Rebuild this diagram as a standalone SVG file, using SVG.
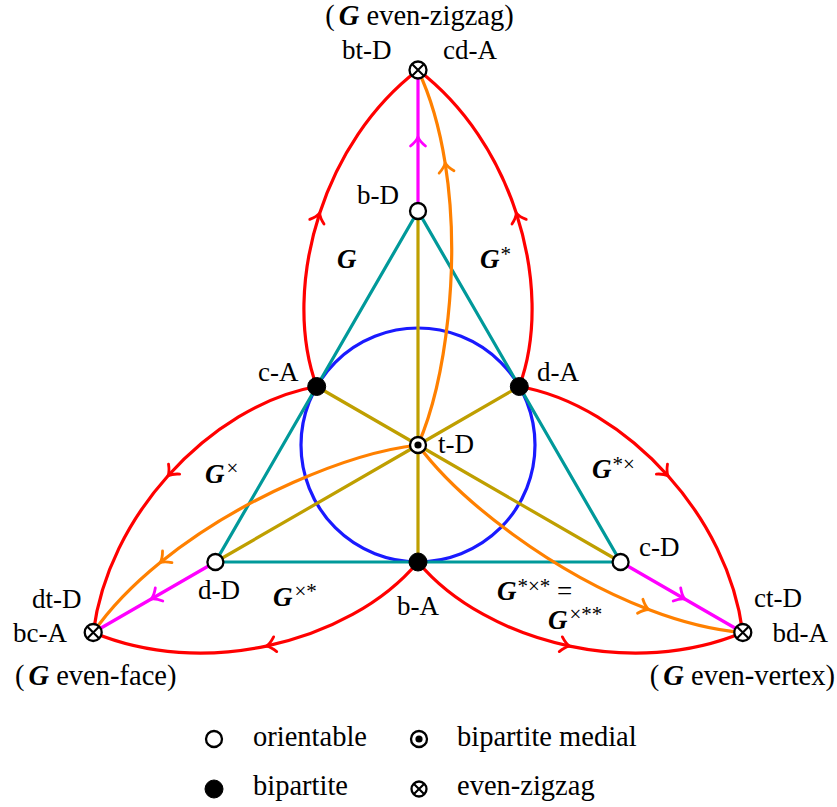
<svg xmlns="http://www.w3.org/2000/svg" width="837" height="807" viewBox="0 0 837 807" font-family="'Liberation Serif', 'Times New Roman', serif">
<style>
text{font-family:"Liberation Serif","Times New Roman",serif;font-size:27px;fill:#000}
.big{font-size:28.5px}
.gi{font-weight:bold;font-style:italic}
.sup{font-size:21px}
.e{fill:none;stroke-width:3.2;stroke-linecap:round}
.red{stroke:#ff0000;marker-mid:url(#ar)}
.mag{stroke:#ff00ff;marker-mid:url(#am)}
.org{stroke:#ff8000;marker-mid:url(#ao)}
.teal{stroke:#00999a}
.olive{stroke:#bf9f00}
.blue{stroke:#1a1aff}
.nw{fill:#fff;stroke:#000;stroke-width:2.3}
.nb{fill:#000;stroke:#000;stroke-width:1}
.x{stroke:#000;stroke-width:2.1}
</style>
<defs>
<marker id="ar" markerUnits="userSpaceOnUse" viewBox="-12 -10 14 20" refX="0" refY="0" markerWidth="14" markerHeight="20" orient="auto" overflow="visible"><path d="M-9,-7.5 C-5,-2.5 -2.5,-1 0,0 C-2.5,1 -5,2.5 -9,7.5" fill="none" stroke="#ff0000" stroke-width="2.8" stroke-linecap="round"/></marker>
<marker id="am" markerUnits="userSpaceOnUse" viewBox="-12 -10 14 20" refX="0" refY="0" markerWidth="14" markerHeight="20" orient="auto" overflow="visible"><path d="M-9,-7.5 C-5,-2.5 -2.5,-1 0,0 C-2.5,1 -5,2.5 -9,7.5" fill="none" stroke="#ff00ff" stroke-width="2.8" stroke-linecap="round"/></marker>
<marker id="ao" markerUnits="userSpaceOnUse" viewBox="-12 -10 14 20" refX="0" refY="0" markerWidth="14" markerHeight="20" orient="auto" overflow="visible"><path d="M-9,-7.5 C-5,-2.5 -2.5,-1 0,0 C-2.5,1 -5,2.5 -9,7.5" fill="none" stroke="#ff8000" stroke-width="2.8" stroke-linecap="round"/></marker>
</defs>

<g id="connectors">
<circle class="e blue" cx="418" cy="445" r="117"/>
<path class="e teal" d="M418,211 L215.4,562 L620.6,562 Z"/>
<g class="e olive">
<path d="M418,445 L418,211"/>
<path d="M418,445 L418,562"/>
<path d="M418,445 L316.7,386.5"/>
<path d="M418,445 L519.3,386.5"/>
<path d="M418,445 L215.4,562"/>
<path d="M418,445 L620.6,562"/>
</g>
<path id="r1" class="e red" d="M316.7,386.5 C298.32,336.56 300.11,273.13 319.68,213.16 C337.75,157.81 370.96,106 418,70"/>
<path id="r2" class="e red" d="M519.3,386.5 C537.68,336.56 535.89,273.13 516.32,213.16 C498.25,157.81 465.04,106 418,70"/>
<path id="r3" class="e red" transform="rotate(120 418 445)" d="M316.7,386.5 C298.32,336.56 300.11,273.13 319.68,213.16 C337.75,157.81 370.96,106 418,70"/>
<path id="r4" class="e red" transform="rotate(120 418 445)" d="M519.3,386.5 C537.68,336.56 535.89,273.13 516.32,213.16 C498.25,157.81 465.04,106 418,70"/>
<path id="r5" class="e red" transform="rotate(240 418 445)" d="M316.7,386.5 C298.32,336.56 300.11,273.13 319.68,213.16 C337.75,157.81 370.96,106 418,70"/>
<path id="r6" class="e red" transform="rotate(240 418 445)" d="M519.3,386.5 C537.68,336.56 535.89,273.13 516.32,213.16 C498.25,157.81 465.04,106 418,70"/>
<path id="m1" class="e mag" d="M418,211 L418,137 L418,70"/>
<path id="m2" class="e mag" transform="rotate(120 418 445)" d="M418,211 L418,137 L418,70"/>
<path id="m3" class="e mag" transform="rotate(240 418 445)" d="M418,211 L418,137 L418,70"/>
<path id="o1" class="e org" d="M418,445 C445.75,381.25 461.13,264.06 445.14,163.05 C439.81,129.38 431,97.5 418,70"/>
<path id="o2" class="e org" transform="rotate(120 418 445)" d="M418,445 C445.75,381.25 461.13,264.06 445.14,163.05 C439.81,129.38 431,97.5 418,70"/>
<path id="o3" class="e org" transform="rotate(240 418 445)" d="M418,445 C445.75,381.25 461.13,264.06 445.14,163.05 C439.81,129.38 431,97.5 418,70"/>
</g>

<g id="node-top">
<circle class="nw" cx="418" cy="70" r="8.5"/>
<path class="x" d="M412,64 L424,76 M424,64 L412,76"/>
<text class="big" x="419.5" y="25" text-anchor="middle">(<tspan class="gi" dx="4">G</tspan> even-zigzag)</text>
<text x="342" y="59">bt-D</text>
<text x="443" y="59">cd-A</text>
</g>
<g id="node-bl">
<circle class="nw" cx="93.2" cy="632.5" r="8.5"/>
<path class="x" d="M87.2,626.5 L99.2,638.5 M99.2,626.5 L87.2,638.5"/>
<text x="32" y="608">dt-D</text>
<text x="13" y="642">bc-A</text>
<text class="big" x="15" y="685">(<tspan class="gi" dx="4">G</tspan> even-face)</text>
</g>
<g id="node-br">
<circle class="nw" cx="742.8" cy="632.5" r="8.5"/>
<path class="x" d="M736.8,626.5 L748.8,638.5 M748.8,626.5 L736.8,638.5"/>
<text x="802" y="607" text-anchor="end">ct-D</text>
<text x="828" y="642" text-anchor="end">bd-A</text>
<text class="big" x="835" y="685" text-anchor="end">(<tspan class="gi" dx="4">G</tspan> even-vertex)</text>
</g>
<g id="node-bD">
<circle class="nw" cx="418" cy="211" r="8"/>
<text x="399" y="204" text-anchor="end">b-D</text>
</g>
<g id="node-cA">
<circle class="nb" cx="316.7" cy="386.5" r="9"/>
<text x="258" y="381">c-A</text>
</g>
<g id="node-dA">
<circle class="nb" cx="519.3" cy="386.5" r="9"/>
<text x="537" y="381">d-A</text>
</g>
<g id="node-tD">
<circle class="nw" cx="418" cy="445" r="8"/>
<circle cx="418" cy="445" r="3.6" fill="#000"/>
<text x="438" y="453">t-D</text>
</g>
<g id="node-dD">
<circle class="nw" cx="215.4" cy="562" r="8"/>
<text x="198" y="599">d-D</text>
</g>
<g id="node-bA">
<circle class="nb" cx="418" cy="562" r="9"/>
<text x="418" y="615" text-anchor="middle">b-A</text>
</g>
<g id="node-cD">
<circle class="nw" cx="620.6" cy="562" r="8"/>
<text x="639" y="556">c-D</text>
</g>

<g id="region-labels">
<text x="337" y="268"><tspan class="gi">G</tspan></text>
<text x="480" y="268"><tspan class="gi">G</tspan><tspan class="sup" dx="1" dy="-7">*</tspan></text>
<text x="205" y="483"><tspan class="gi">G</tspan><tspan class="sup" dx="2" dy="-8">×</tspan></text>
<text x="592" y="478"><tspan class="gi">G</tspan><tspan class="sup" dx="1" dy="-7">*×</tspan></text>
<text x="273" y="606"><tspan class="gi">G</tspan><tspan class="sup" dx="2" dy="-8">×*</tspan></text>
<text x="497" y="600"><tspan class="gi">G</tspan><tspan class="sup" dx="1" dy="-7">*×*</tspan><tspan dy="7"> =</tspan></text>
<text x="548" y="629"><tspan class="gi">G</tspan><tspan class="sup" dx="2" dy="-8">×**</tspan></text>
</g>

<g id="legend">
<g id="leg-orientable">
<circle class="nw" cx="214" cy="739" r="8"/>
<text class="big" x="253" y="746">orientable</text>
</g>
<g id="leg-medial">
<circle class="nw" cx="419" cy="739" r="8"/>
<circle cx="419" cy="739" r="3.6" fill="#000"/>
<text class="big" x="457" y="746">bipartite medial</text>
</g>
<g id="leg-bipartite">
<circle class="nb" cx="214" cy="789" r="9"/>
<text class="big" x="253" y="795">bipartite</text>
</g>
<g id="leg-zigzag">
<circle class="nw" cx="419" cy="789" r="7.5"/>
<path class="x" d="M413.7,783.7 L424.3,794.3 M424.3,783.7 L413.7,794.3"/>
<text class="big" x="457" y="795">even-zigzag</text>
</g>
</g>
</svg>
